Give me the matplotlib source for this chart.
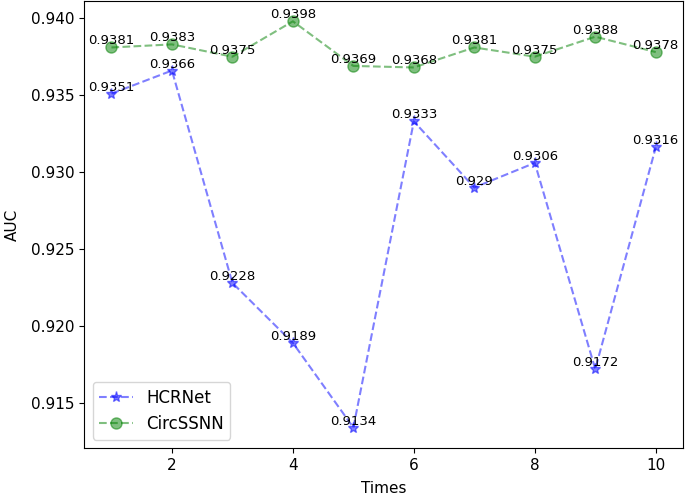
import matplotlib
matplotlib.use("Agg")
import matplotlib.pyplot as plt

times = [1, 2, 3, 4, 5, 6, 7, 8, 9, 10]
hcrnet = [0.9351, 0.9366, 0.9228, 0.9189, 0.9134, 0.9333, 0.929, 0.9306, 0.9172, 0.9316]
circssnn = [0.9381, 0.9383, 0.9375, 0.9398, 0.9369, 0.9368, 0.9381, 0.9375, 0.9388, 0.9378]

plt.rcParams['font.size'] = 11

fig = plt.figure(figsize=(6.85, 4.96), dpi=100)
ax = fig.add_subplot(111)
fig.subplots_adjust(left=0.123, right=0.997, top=0.998, bottom=0.097)

ax.plot(times, hcrnet, linestyle='--', marker='*', color='blue', alpha=0.5,
        markersize=8, label='HCRNet')
ax.plot(times, circssnn, linestyle='--', marker='o', color='green', alpha=0.5,
        markersize=8, label='CircSSNN')

# value labels above each point
for x, y in zip(times, hcrnet):
    ax.text(x, y, str(y), ha='center', va='bottom', fontsize=9.5)
for x, y in zip(times, circssnn):
    ax.text(x, y, str(y), ha='center', va='bottom', fontsize=9.5)

ax.set_xlabel('Times', labelpad=6)
ax.set_ylabel('AUC', labelpad=8)
ax.legend(loc='lower left', fontsize=12)

plt.savefig('out.png', dpi=100)
plt.close('all')
